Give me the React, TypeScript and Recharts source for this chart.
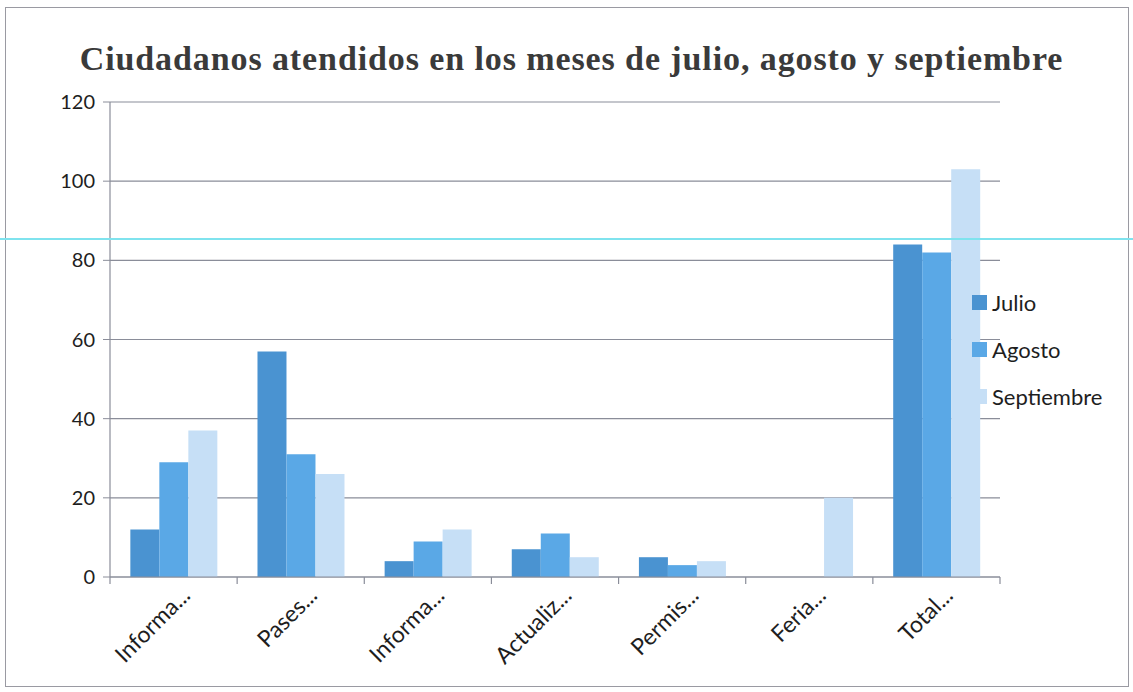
import React from 'react';
import { BarChart, Bar, XAxis, YAxis, CartesianGrid } from 'recharts';

const categories = ['Informa...', 'Pases...', 'Informa...', 'Actualiz...', 'Permis...', 'Feria...', 'Total...'];
const julio = [12, 57, 4, 7, 5, 0, 84];
const agosto = [29, 31, 9, 11, 3, 0, 82];
const septiembre = [37, 26, 12, 5, 4, 20, 103];
const yTicks = [0, 20, 40, 60, 80, 100, 120];
const seriesNames = ['Julio', 'Agosto', 'Septiembre'];
const seriesColors = ['#4a93d1', '#5aa8e6', '#c6dff6'];

const data = categories.map((c, i) => ({
  key: i,
  name: c,
  Julio: julio[i],
  Agosto: agosto[i],
  Septiembre: septiembre[i],
}));

const W = 1133;
const H = 692;
const margin = { top: 102, right: 133, bottom: 0, left: 40 };
const plotW = W - margin.left - margin.right - 70;
const band = plotW / categories.length;

const XTick = (props: any) => {
  const { x, y, payload, index } = props;
  const label = categories[payload.value] ?? '';
  const ax = x + 18;
  const ay = y + 12;
  return (
    <g>
      <line x1={x - band / 2} y1={y - 8} x2={x - band / 2} y2={y - 1} stroke="#8a8d99" strokeWidth={1.2} />
      {index === categories.length - 1 && (
        <line x1={x + band / 2} y1={y - 8} x2={x + band / 2} y2={y - 1} stroke="#8a8d99" strokeWidth={1.2} />
      )}
      <text
        x={ax}
        y={ay}
        textAnchor="end"
        transform={`rotate(-45, ${ax}, ${ay})`}
        fontSize={23}
        fill="#1e1e1e"
        fontFamily="Lato, 'Open Sans', sans-serif"
      >
        {label}
      </text>
    </g>
  );
};

export default function App() {
  return (
    <div style={{ position: 'absolute', left: 0, top: 0, width: W, height: H, background: '#fff', fontFamily: 'Lato, sans-serif' }}>
      <div
        style={{
          position: 'absolute',
          left: 5,
          top: 7,
          width: 1124,
          height: 680,
          border: '1.5px solid #9a9aa2',
          boxSizing: 'border-box',
        }}
      />
      <div
        style={{
          position: 'absolute',
          left: 0,
          width: W,
          top: 40,
          textAlign: 'center',
          paddingLeft: 10,
          boxSizing: 'border-box',
          fontFamily: "'Liberation Serif', 'Times New Roman', serif",
          fontWeight: 'bold',
          fontSize: 34,
          letterSpacing: 0.9,
          color: '#3a3a3a',
          whiteSpace: 'nowrap',
        }}
      >
        Ciudadanos atendidos en los meses de julio, agosto y septiembre
      </div>
      <div style={{ position: 'absolute', left: 0, top: 0 }}>
        <BarChart width={W} height={H} data={data} margin={margin} barCategoryGap="16%" barGap={0}>
          <CartesianGrid vertical={false} stroke="#8a8d99" strokeWidth={1.2} />
          <XAxis
            dataKey="key"
            type="category"
            tick={<XTick />}
            tickLine={false}
            axisLine={{ stroke: '#8a8d99', strokeWidth: 1.2 }}
            interval={0}
            height={115}
          />
          <YAxis
            width={70}
            domain={[0, 120]}
            ticks={yTicks}
            interval={0}
            tickSize={7}
            tickMargin={8}
            tickLine={{ stroke: '#8a8d99' }}
            axisLine={{ stroke: '#8a8d99', strokeWidth: 1.2 }}
            tick={{ fontSize: 20, fill: '#1e1e1e', fontFamily: "Lato, 'Open Sans', sans-serif" }}
          />
          {seriesNames.map((s, i) => (
            <Bar key={s} dataKey={s} fill={seriesColors[i]} isAnimationActive={false} />
          ))}
        </BarChart>
      </div>
      {seriesNames.map((s, i) => (
        <div
          key={s}
          style={{
            position: 'absolute',
            left: 972,
            top: 289 + i * 47,
            display: 'flex',
            alignItems: 'center',
            fontFamily: "Lato, 'Open Sans', sans-serif",
            fontSize: 22,
            color: '#1e1e1e',
          }}
        >
          <span style={{ display: 'inline-block', width: 15, height: 15, background: seriesColors[i], marginRight: 5 }} />
          {s}
        </div>
      ))}
      <div style={{ position: 'absolute', left: 0, top: 238, width: W, height: 1.5, background: '#7fe3ee' }} />
    </div>
  );
}
